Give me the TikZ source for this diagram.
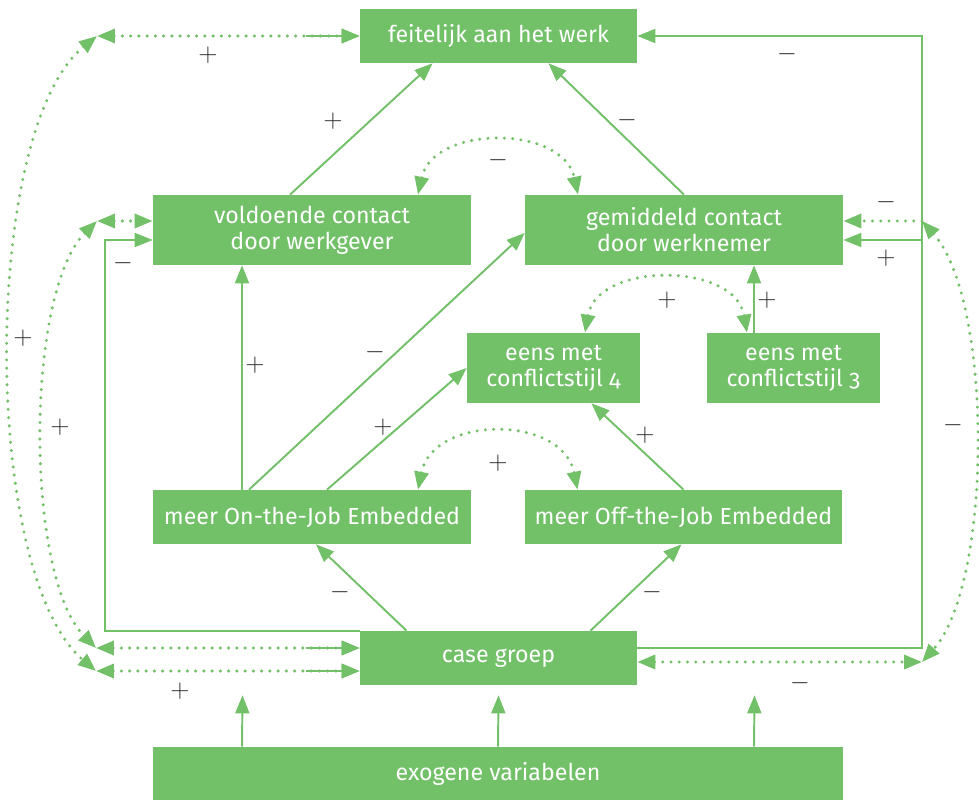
\documentclass[tikz,border=0pt]{standalone}
\usepackage{fontspec}
\setmainfont{Fira Sans}[Numbers=OldStyle]
\usetikzlibrary{arrows.meta,calc}
\definecolor{mosgroen}{RGB}{114,193,104}
\definecolor{tekstgrijs}{RGB}{45,45,45}
\tikzset{
    >={Triangle[length=0.36cm,width=0.28cm]},
    blok/.style={fill=mosgroen, text=white, inner sep=0pt, align=center,
        font=\fontsize{13.2}{14.8}\selectfont},
    pijl/.style={draw=mosgroen, line width=1.1pt, ->},
    stippel/.style={draw=mosgroen, line width=1.9pt, line cap=round,
        dash pattern=on 0pt off 0.165cm},
    teken/.style={text=tekstgrijs, font=\fontsize{15}{15}\selectfont}
}
\begin{document}
\begin{tikzpicture}[x=0.02cm, y=-0.02cm]
    % Eenheid = 1 pixel, y-as naar beneden
    \path[use as bounding box, fill=white] (0,0) rectangle (979,800);

    % 1. De blokken
    \node[blok, minimum width=5.54cm, minimum height=1.08cm] (feit) at (498.5,36) {feitelijk aan het werk};
    \node[blok, minimum width=6.36cm, minimum height=1.4cm] (contactwg) at (312,230) {voldoende contact\\door werkgever};
    \node[blok, minimum width=6.36cm, minimum height=1.4cm] (contactwn) at (684,230) {gemiddeld contact\\door werknemer};
    \node[blok, minimum width=3.46cm, minimum height=1.4cm] (stijl4) at (553.5,368) {eens met\\conflictstijl 4};
    \node[blok, minimum width=3.46cm, minimum height=1.4cm] (stijl3) at (793.5,368) {eens met\\conflictstijl 3};
    \node[blok, minimum width=6.36cm, minimum height=1.08cm] (onjob) at (312,517) {meer On-the-Job Embedded};
    \node[blok, minimum width=6.34cm, minimum height=1.08cm] (offjob) at (683.5,517) {meer Off-the-Job Embedded};
    \node[blok, minimum width=5.54cm, minimum height=1.08cm] (groep) at (498.5,658) {case groep};
    \node[blok, minimum width=13.8cm, minimum height=1.06cm] (exo) at (498,773.5) {exogene variabelen};

    % 2. Hoekpunten van de correlatiebogen
    \coordinate (lb) at (97,36);
    \coordinate (lm) at (97,221);
    \coordinate (lo1) at (96,648);
    \coordinate (lo2) at (96,671);
    \coordinate (rk) at (922,36);
    \coordinate (rtak) at (922,240);
    \coordinate (rm) at (922,221);
    \coordinate (ro) at (922,662);

    % 3. Directe effecten
    \draw[pijl] ($(contactwg.north)+(-22,0)$) -- ($(feit.south)+(-66,0)$);
    \draw[pijl] (contactwn.north) -- ($(feit.south)+(50,0)$);
    \draw[pijl] ($(onjob.north)+(-70,0)$) -- ($(contactwg.south)+(-70,0)$);
    \draw[pijl] ($(onjob.north)+(-63,0)$) -- ($(contactwn.west)+(0,3)$);
    \draw[pijl] ($(onjob.north)+(15,0)$) -- (stijl4.west);
    \draw[pijl] (offjob.north) -- ($(stijl4.south)+(38,0)$);
    \draw[pijl] ($(stijl3.north)+(-39.5,0)$) -- ($(contactwn.south)+(70,0)$);
    \draw[pijl] ($(groep.north)+(-92,0)$) -- ($(onjob.south)+(4,0)$);
    \draw[pijl] ($(groep.north)+(92,0)$) -- ($(offjob.south)+(-2,0)$);
    \foreach \dx in {-256,0,256}
        \draw[pijl] ($(exo.north)+(\dx,0)$) -- ($(groep.south)+(\dx,10)$);

    % 4. Effecten van case groep langs de randen
    \draw[pijl] (groep.north west) -- ++(-255,0) |- ($(contactwg.west)+(0,10)$);
    \draw[pijl] ($(groep.east)+(0,-10)$) -| (rk) -- (feit.east);
    \draw[pijl] (rtak) -- (rtak -| contactwn.east);

    % 5. Correlaties (gestippeld)
    \draw[stippel, <->] ($(contactwg.north)+(106,0)$) .. controls +(15,-70) and +(-15,-70) .. ($(contactwn.north)+(-106,0)$);
    \draw[stippel, <->] ($(stijl4.north)+(31.5,0)$) .. controls +(12,-71) and +(-12,-71) .. ($(stijl3.north)+(-46.5,0)$);
    \draw[stippel, <->] ($(onjob.north)+(106,0)$) .. controls +(15,-75) and +(-15,-75) .. ($(offjob.north)+(-106,0)$);

    \draw[stippel, <->] (lb) -- (feit.west);
    \draw[pijl] ($(feit.west)+(-54,0)$) -- (feit.west);
    \draw[stippel, <->] (lm) -- (lm -| contactwg.west);
    \draw[stippel, <->] (lo1) -- (lo1 -| groep.west);
    \draw[pijl] ($(lo1 -| groep.west)+(-54,0)$) -- (lo1 -| groep.west);
    \draw[stippel, <->] (lo2) -- (lo2 -| groep.west);
    \draw[pijl] ($(lo2 -| groep.west)+(-54,0)$) -- (lo2 -| groep.west);
    \draw[stippel, <->] (lb) .. controls (-19,130) and (-19,573) .. (lo2);
    \draw[stippel, <->] (lm) .. controls (25,293) and (25,576) .. (lo1);

    \draw[stippel, ->] (rm) -- (rm -| contactwn.east);
    \draw[stippel, <->] (ro -| groep.east) -- (ro);
    \draw[stippel, <->] (rm) .. controls (993,300) and (993,583) .. (ro);

    % 6. Tekens bij de pijlen
    \foreach \x/\y/\s [count=\i] in {208/55/+, 333/121/+, 627/120/-, 787/54/-,
        498/160/-, 123/263/-, 886/202/-, 886/258/+, 667/300/+, 767/300/+,
        23/338/+, 60/427/+, 255/365/+, 375/352/-, 383/427/+, 498/463/+,
        645/435/+, 953/425/-, 340/592/-, 652/592/-, 180/691/+, 800/683/-}
        \node[teken] (t\i) at (\x,\y) {$\s$};
\end{tikzpicture}
\end{document}
